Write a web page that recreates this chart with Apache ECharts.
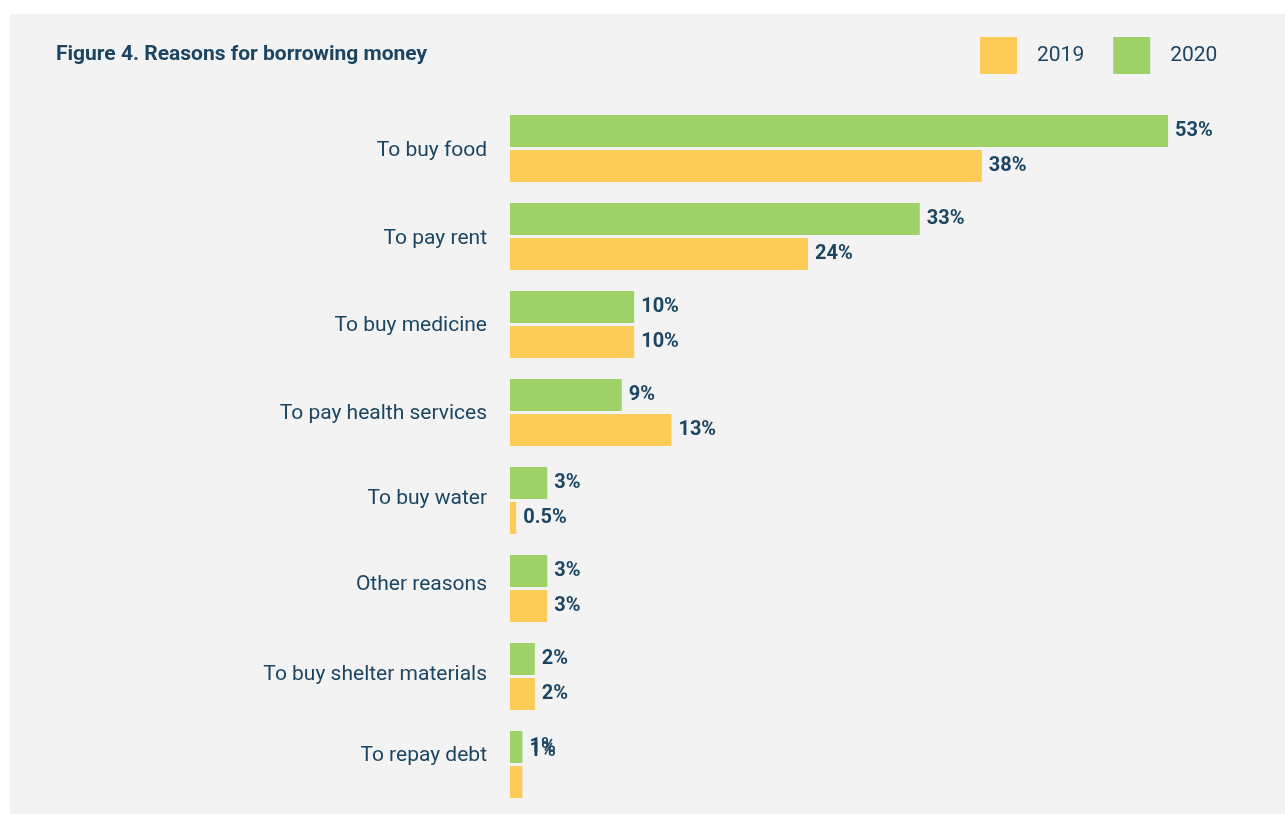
<!DOCTYPE html>
<html>
<head>
<meta charset="utf-8">
<script src="https://cdn.jsdelivr.net/npm/echarts@6/dist/echarts.min.js"></script>
<style>
  html, body { margin: 0; padding: 0; background: #ffffff; }
  #chart { width: 1285px; height: 814px; }
</style>
</head>
<body>
<div id="chart"></div>
<script>
var categories = ['To buy food', 'To pay rent', 'To buy medicine', 'To pay health services',
  'To buy water', 'Other reasons', 'To buy shelter materials', 'To repay debt'];
var values2020 = [53, 33, 10, 9, 3, 3, 2, 1];
var values2019 = [38, 24, 10, 13, 0.5, 3, 2, 1];

var textColor = '#1b4562';

function render_bars(chart_id) {
  var el = document.getElementById(chart_id);
  var chart = echarts.getInstanceByDom(el) ? echarts.getInstanceByDom(el) : echarts.init(el);

  var labelStyle = {
    show: true,
    position: 'right',
    distance: 7,
    color: textColor,
    fontFamily: 'Roboto',
    fontWeight: 'bold',
    fontSize: 20,
    formatter: '{c}%'
  };

  // the 2019 "1%" label sits on top of the 2020 one in the original
  var data2019 = values2019.map(function (v, i) {
    if (i === values2019.length - 1) {
      return { value: v, label: { offset: [0, -31] } };
    }
    return v;
  });

  // category labels in the original are not quite centred on their bars
  var nudge = [2, 2, 1, 1, -2, -4, -2, -9];
  var rich = {};
  nudge.forEach(function (n, i) {
    rich['c' + i] = {
      color: textColor, fontFamily: 'Roboto', fontSize: 21,
      padding: n > 0 ? [2 * n, 0, 0, 0] : [0, 0, -2 * n, 0]
    };
  });

  var option = {
    animation: false,
    backgroundColor: '#ffffff',
    graphic: [{
      type: 'rect',
      left: 10, top: 14,
      shape: { width: 1275, height: 800 },
      style: { fill: '#f3f3f3' },
      z: -10
    }],
    title: {
      text: 'Figure 4. Reasons for borrowing money',
      left: 51, top: 39,
      textStyle: { color: textColor, fontFamily: 'Roboto', fontWeight: 'bold', fontSize: 21 }
    },
    legend: {
      data: ['2019', '2020'],
      left: 975, top: 32,
      icon: 'rect',
      itemWidth: 37, itemHeight: 37,
      itemGap: 29,
      textStyle: { color: textColor, fontFamily: 'Roboto', fontSize: 21, padding: [0, 0, 0, 15] }
    },
    grid: { left: 510, top: 104.5, width: 745, height: 704 },
    xAxis: {
      type: 'value', min: 0, max: 60,
      show: false
    },
    yAxis: {
      type: 'category',
      data: categories,
      inverse: true,
      axisLine: { show: false },
      axisTick: { show: false },
      splitLine: { show: false },
      axisLabel: {
        color: textColor, fontFamily: 'Roboto', fontSize: 21, margin: 23,
        formatter: function (value, index) {
          return '{c' + index + '|' + value + '}';
        },
        rich: rich
      }
    },
    series: [
      {
        name: '2020', type: 'bar',
        data: values2020,
        barWidth: 32, barGap: '9.4%',
        itemStyle: { color: '#a0d26a' },
        label: labelStyle
      },
      {
        name: '2019', type: 'bar',
        data: data2019,
        barWidth: 32, barGap: '9.4%',
        itemStyle: { color: '#fdcb58' },
        label: labelStyle
      }
    ]
  };
  chart.setOption(option, true);
}

render_bars('chart');
</script>
</body>
</html>
